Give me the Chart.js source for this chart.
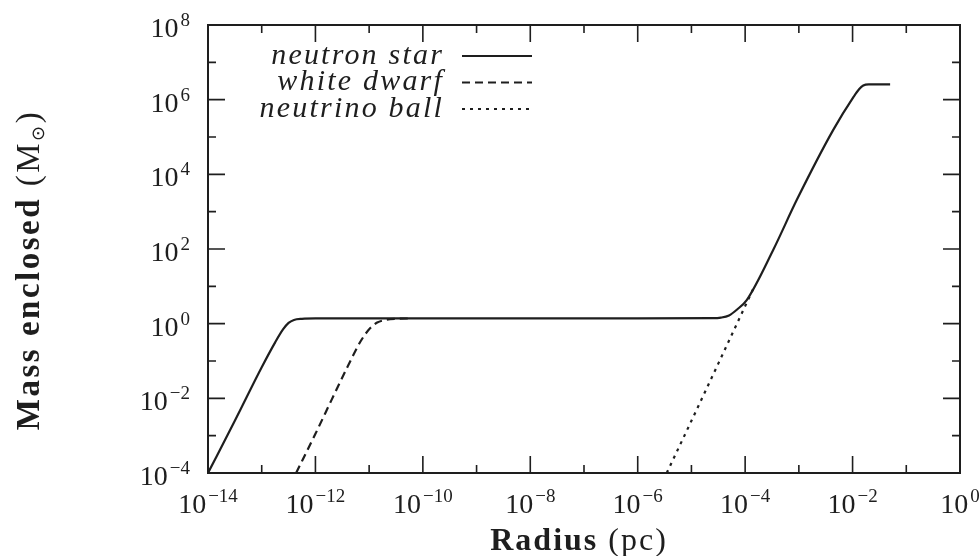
<!DOCTYPE html>
<html><head><meta charset="utf-8">
<script src="https://cdn.jsdelivr.net/npm/chart.js@4.4.1/dist/chart.umd.min.js"></script>
<style>html,body{margin:0;padding:0;background:#fff;}#wrap{width:980px;height:556px;}</style>
</head><body><div id="wrap"><canvas id="c" width="980" height="556"></canvas></div>
<script>
// ---- data ----
const seriesNames = ['neutron star', 'white dwarf', 'neutrino ball'];

const neutronRadius = [1e-14, 3.16e-14, 1e-13, 1.78e-13, 2.51e-13, 3.16e-13, 3.98e-13, 5.62e-13, 1e-12, 1e-10, 1e-8, 1e-6, 2.51e-5, 3.55e-5, 5.01e-5, 7.08e-5, 1.07e-4, 3.31e-4, 9.12e-4, 4.37e-3, 1.05e-2, 1.32e-2, 1.58e-2, 2.0e-2, 5.0e-2];
const neutronMass   = [1e-4, 2.5e-3, 0.068, 0.316, 0.71, 1.05, 1.26, 1.35, 1.38, 1.38, 1.39, 1.39, 1.40, 1.45, 1.66, 2.40, 4.3, 93, 2040, 1.55e5, 1.2e6, 1.9e6, 2.4e6, 2.57e6, 2.57e6];

const whiteDwarfRadius = [4.37e-13, 1e-12, 2.0e-12, 3.98e-12, 7.08e-12, 1.05e-11, 1.41e-11, 2.0e-11, 3.16e-11, 6.3e-11];
const whiteDwarfMass   = [1e-4, 1.12e-3, 9.1e-3, 0.071, 0.355, 0.76, 1.07, 1.26, 1.35, 1.38];

const neutrinoRadius = [3.47e-6, 1e-5, 3.16e-5, 1e-4, 1.41e-4];
const neutrinoMass   = [1e-4, 2.5e-3, 0.085, 2.95, 8.5];

const xTickValues = [1e-14, 1e-13, 1e-12, 1e-11, 1e-10, 1e-9, 1e-8, 1e-7, 1e-6, 1e-5, 1e-4, 1e-3, 1e-2, 1e-1, 1e0];
const xTickExponents = ['−14', '', '−12', '', '−10', '', '−8', '', '−6', '', '−4', '', '−2', '', '0'];
const yTickValues = [1e-4, 1e-3, 1e-2, 1e-1, 1e0, 1e1, 1e2, 1e3, 1e4, 1e5, 1e6, 1e7, 1e8];
const yTickExponents = ['−4', '', '−2', '', '0', '', '2', '', '4', '', '6', '', '8'];
const tickBase = '10';

const xTitleBold = 'Radius', xTitleRest = ' (pc)';
const yTitleBold = 'Mass enclosed ', yTitleRest = '(M', yTitleSub = '⊙', yTitleEnd = ')';

// ---- chart ----
const INK = '#1e1e1e';
const SERIF = '"Liberation Serif"';
function pts(xs, ys) { return xs.map((x, i) => ({x: x, y: ys[i]})); }

const frameTicks = {
  id: 'frameTicks',
  afterDatasetsDraw(chart) {
    const {ctx, chartArea: a, scales} = chart;
    ctx.save();
    ctx.strokeStyle = INK;
    ctx.lineWidth = 1.6;
    scales.x.ticks.forEach((t, i) => {
      const px = scales.x.getPixelForValue(t.value);
      const len = xTickExponents[i] ? 17 : 8;
      ctx.beginPath();
      ctx.moveTo(px, a.bottom); ctx.lineTo(px, a.bottom - len);
      ctx.moveTo(px, a.top); ctx.lineTo(px, a.top + len);
      ctx.stroke();
    });
    scales.y.ticks.forEach((t, i) => {
      const py = scales.y.getPixelForValue(t.value);
      const len = yTickExponents[i] ? 17 : 8;
      ctx.beginPath();
      ctx.moveTo(a.left, py); ctx.lineTo(a.left + len, py);
      ctx.moveTo(a.right, py); ctx.lineTo(a.right - len, py);
      ctx.stroke();
    });
    ctx.lineWidth = 2;
    ctx.strokeRect(a.left, a.top, a.right - a.left, a.bottom - a.top);
    ctx.restore();
  }
};

// tick labels with real superscripts: base "10" + raised exponent
function powerLabel(ctx, exp, x, baseline, align) {
  ctx.font = '28px ' + SERIF;
  const wb = ctx.measureText(tickBase).width;
  ctx.font = '19px ' + SERIF;
  const we = ctx.measureText(exp).width;
  const gap = 2;
  const total = wb + gap + we;
  let x0 = align === 'right' ? x - total : x - total / 2;
  ctx.textAlign = 'left';
  ctx.textBaseline = 'alphabetic';
  ctx.font = '28px ' + SERIF;
  ctx.fillText(tickBase, x0, baseline);
  ctx.font = '19px ' + SERIF;
  ctx.fillText(exp, x0 + wb + gap, baseline - 11);
}

const tickLabels = {
  id: 'tickLabels',
  afterDraw(chart) {
    const {ctx, chartArea: a, scales} = chart;
    ctx.save();
    ctx.fillStyle = INK;
    scales.x.ticks.forEach((t, i) => {
      if (!xTickExponents[i]) return;
      powerLabel(ctx, xTickExponents[i], scales.x.getPixelForValue(t.value), a.bottom + 40, 'center');
    });
    scales.y.ticks.forEach((t, i) => {
      if (!yTickExponents[i]) return;
      powerLabel(ctx, yTickExponents[i], a.left - 18, scales.y.getPixelForValue(t.value) + 12, 'right');
    });
    ctx.restore();
  }
};

const legendAndTitles = {
  id: 'legendAndTitles',
  afterDraw(chart) {
    const {ctx, chartArea: a} = chart;
    ctx.save();
    ctx.fillStyle = INK;
    ctx.strokeStyle = INK;
    // legend
    const textRight = a.left + 236, lineL = a.left + 254, lineR = a.left + 324;
    chart.data.datasets.forEach((ds, i) => {
      const y = a.top + 31 + i * 26.5;
      ctx.font = 'italic 30px ' + SERIF;
      ctx.letterSpacing = '2.2px';
      ctx.textAlign = 'right';
      ctx.textBaseline = 'middle';
      ctx.fillText(ds.label, textRight, y);
      ctx.letterSpacing = '0px';
      ctx.setLineDash(ds.borderDash || []);
      ctx.lineWidth = ds.borderWidth;
      ctx.beginPath();
      ctx.moveTo(lineL, y); ctx.lineTo(lineR, y);
      ctx.stroke();
    });
    ctx.setLineDash([]);
    // x title
    ctx.textBaseline = 'alphabetic';
    ctx.textAlign = 'left';
    ctx.letterSpacing = '2px';
    ctx.font = 'bold 32px ' + SERIF;
    const wb = ctx.measureText(xTitleBold).width;
    ctx.font = '32px ' + SERIF;
    const wr = ctx.measureText(xTitleRest).width;
    let x0 = 579 - (wb + wr) / 2;
    ctx.font = 'bold 32px ' + SERIF;
    ctx.fillText(xTitleBold, x0, 550);
    ctx.font = '32px ' + SERIF;
    ctx.fillText(xTitleRest, x0 + wb, 550);
    // y title (rotated)
    ctx.translate(39, 270);
    ctx.rotate(-Math.PI / 2);
    ctx.letterSpacing = '2.5px';
    ctx.font = 'bold 33px ' + SERIF;
    const w1 = ctx.measureText(yTitleBold).width;
    ctx.font = '33px ' + SERIF;
    const w2 = ctx.measureText(yTitleRest).width;
    ctx.font = '18px "DejaVu Sans"';
    const w3 = ctx.measureText(yTitleSub).width;
    ctx.font = '33px ' + SERIF;
    const w4 = ctx.measureText(yTitleEnd).width;
    let s = -(w1 + w2 + w3 + w4) / 2;
    ctx.font = 'bold 33px ' + SERIF;
    ctx.fillText(yTitleBold, s, 0); s += w1;
    ctx.font = '33px ' + SERIF;
    ctx.fillText(yTitleRest, s, 0); s += w2;
    ctx.font = '18px "DejaVu Sans"';
    ctx.fillText(yTitleSub, s, 5); s += w3;
    ctx.font = '33px ' + SERIF;
    ctx.fillText(yTitleEnd, s, 0);
    ctx.restore();
  }
};

const lineDefaults = {showLine: true, pointRadius: 0, borderColor: INK, borderWidth: 2.2, cubicInterpolationMode: 'monotone', fill: false};

new Chart(document.getElementById('c'), {
  type: 'scatter',
  data: {
    datasets: [
      Object.assign({label: seriesNames[0], data: pts(neutronRadius, neutronMass), borderDash: []}, lineDefaults),
      Object.assign({label: seriesNames[1], data: pts(whiteDwarfRadius, whiteDwarfMass), borderDash: [8, 5]}, lineDefaults),
      Object.assign({label: seriesNames[2], data: pts(neutrinoRadius, neutrinoMass), borderDash: [3, 5]}, lineDefaults)
    ]
  },
  options: {
    responsive: false,
    animation: false,
    devicePixelRatio: 1,
    layout: {padding: {left: 0, right: 20, top: 25, bottom: 0}},
    plugins: {legend: {display: false}, tooltip: {enabled: false}},
    scales: {
      x: {
        type: 'logarithmic', min: 1e-14, max: 1,
        afterBuildTicks: s => { s.ticks = xTickValues.map(v => ({value: v})); },
        afterFit: s => { s.height = 83; s.paddingLeft = 0; s.paddingRight = 0; },
        grid: {display: false, drawTicks: false},
        border: {display: false},
        ticks: {display: false, autoSkip: false}
      },
      y: {
        type: 'logarithmic', min: 1e-4, max: 1e8,
        afterBuildTicks: s => { s.ticks = yTickValues.map(v => ({value: v})); },
        afterFit: s => { s.width = 208; s.paddingTop = 0; s.paddingBottom = 0; },
        grid: {display: false, drawTicks: false},
        border: {display: false},
        ticks: {display: false, autoSkip: false}
      }
    }
  },
  plugins: [frameTicks, tickLabels, legendAndTitles]
});
</script>
</body></html>
